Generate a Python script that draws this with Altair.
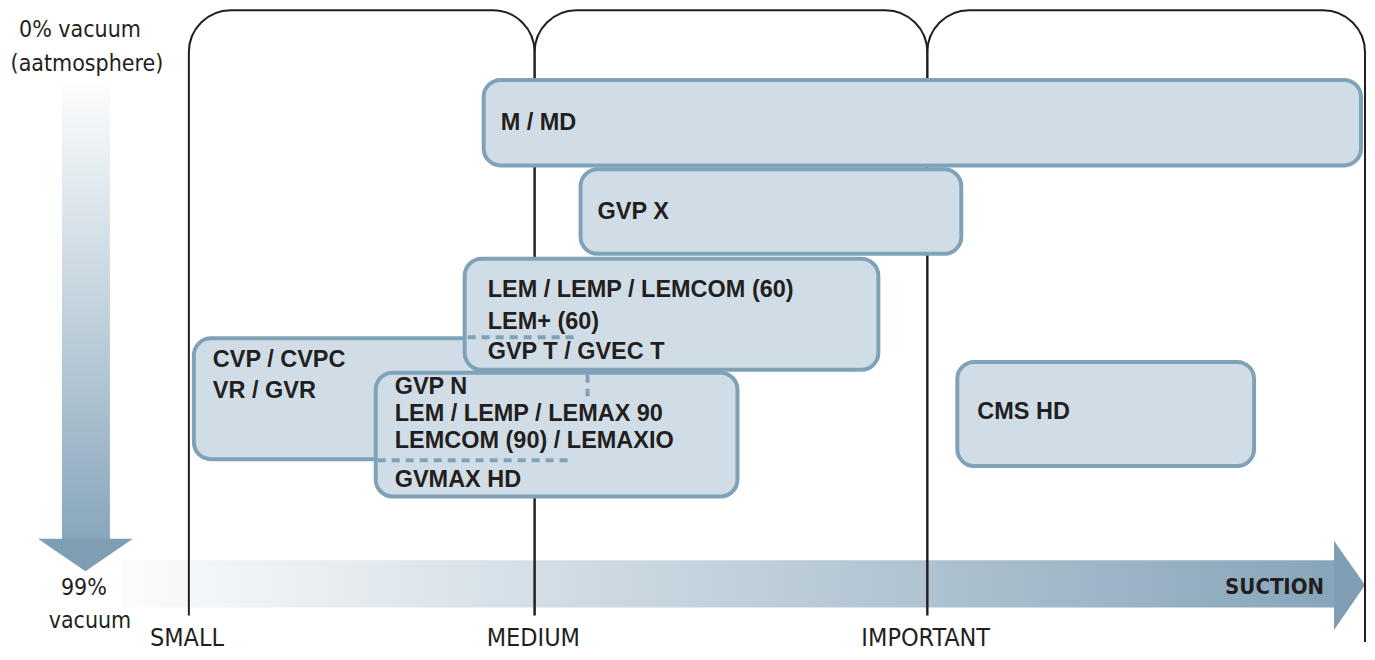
import altair as alt
import pandas as pd

# ---------------- data ----------------
# product boxes (diagram coordinates, reference pixels)
box_names = ["M / MD", "GVP X", "CVP", "GVP N", "LEM", "CMS HD"]
box_x0 = [484, 581, 194, 376, 465, 958]
box_x1 = [1362, 962, 590, 738, 879, 1255]
box_y0 = [76, 167, 339, 374, 258, 363]
box_y1 = [163, 253, 462, 500, 371, 469]

# labels inside boxes
lab_text = ["M / MD", "GVP X",
            "LEM / LEMP / LEMCOM (60)", "LEM+ (60)", "GVP T / GVEC T",
            "CVP / CVPC", "VR / GVR",
            "GVP N", "LEM / LEMP / LEMAX 90", "LEMCOM (90) / LEMAXIO", "GVMAX HD",
            "CMS HD"]
lab_x = [501, 598, 488, 488, 488, 213, 213, 395, 395, 395, 395, 978]
lab_y = [120, 210, 290, 322, 353, 361, 393, 389, 416, 443, 483, 414]

# size columns (frames)
col_names = ["SMALL", "MEDIUM", "IMPORTANT"]
col_x0 = [189, 535, 928]
col_x1 = [535, 928, 1366]
col_label_x = [150, 487, 862]
col_label_y = [644, 644, 644]

# hidden edges of the CVP box (dashed)
dash_x0 = [468, 588, 378]
dash_x1 = [580, 588, 574]
dash_y0 = [338, 376, 463]
dash_y1 = [338, 398, 463]

# vacuum axis labels
vac_text = ["0% vacuum", "(aatmosphere)", "99%", "vacuum"]
vac_x = [80, 87, 84, 90]
vac_y = [25, 60, 593, 627]

# arrows
vshaft_x = [62, 110]; vshaft_y = [70, 545]
vhead_x = [38, 85.5, 133]; vhead_y = [543, 543, 543]; vhead_y2 = [543, 576, 543]
hshaft_x = [122, 1336]; hshaft_y = [565, 613]
hhead_y = [545, 590, 636]; hhead_x = [1335, 1335, 1335]; hhead_x2 = [1335, 1366, 1335]

# ---------------- styles ----------------
BOX_FILL = "#d1dde6"
BOX_STROKE = "#80a2b9"
INK = "#231f20"
NARROW = "DejaVu Sans Condensed, Liberation Sans Narrow, Arial Narrow, sans-serif"

XS = alt.Scale(domain=[8, 1368], nice=False, zero=False)
YS = alt.Scale(domain=[4, 656], nice=False, zero=False, reverse=True)

def X(f="x"):
    return alt.X(f"{f}:Q", scale=XS, axis=None)

def Y(f="y"):
    return alt.Y(f"{f}:Q", scale=YS, axis=None)

# arrows
vgrad = alt.LinearGradient(gradient="linear",
                           stops=[alt.GradientStop(color="#ffffff", offset=0),
                                  alt.GradientStop(color="#e6edf1", offset=0.2),
                                  alt.GradientStop(color="#88a6bb", offset=1)],
                           x1=0, x2=0, y1=0, y2=1)
hgrad = alt.LinearGradient(gradient="linear",
                           stops=[alt.GradientStop(color="#fbfcfd", offset=0),
                                  alt.GradientStop(color="#87a5ba", offset=1)],
                           x1=0, x2=1, y1=0, y2=0)

vshaft = alt.Chart(pd.DataFrame({"x": [vshaft_x[0]], "x2": [vshaft_x[1]],
                                 "y": [vshaft_y[0]], "y2": [vshaft_y[1]]})).mark_rect(
    fill=vgrad, strokeWidth=0).encode(x=X(), x2="x2:Q", y=Y(), y2="y2:Q")
vhead = alt.Chart(pd.DataFrame({"x": vhead_x, "y": vhead_y, "y2": vhead_y2})).mark_area(
    color="#7f9eb4", interpolate="linear").encode(x=X(), y=Y(), y2="y2:Q")
hshaft = alt.Chart(pd.DataFrame({"x": [hshaft_x[0]], "x2": [hshaft_x[1]],
                                 "y": [hshaft_y[0]], "y2": [hshaft_y[1]]})).mark_rect(
    fill=hgrad, strokeWidth=0).encode(x=X(), x2="x2:Q", y=Y(), y2="y2:Q")
hhead = alt.Chart(pd.DataFrame({"y": hhead_y, "x": hhead_x, "x2": hhead_x2})).mark_area(
    color="#7f9eb4", orient="horizontal", interpolate="linear").encode(
    y=Y(), x=X(), x2="x2:Q")

# column frames (bottom edge hidden by the white cover)
frames_df = pd.DataFrame({"name": col_names, "x": col_x0, "x2": col_x1,
                          "y": [5, 5, 5], "y2": [653, 653, 653]})
frames = alt.Chart(frames_df).mark_rect(
    fillOpacity=0, stroke=INK, strokeWidth=2,
    cornerRadiusTopLeft=42, cornerRadiusTopRight=42,
    cornerRadiusBottomLeft=0, cornerRadiusBottomRight=0).encode(
    x=X(), x2="x2:Q", y=Y(), y2="y2:Q")

cover_df = pd.DataFrame({"x": [115, 1331], "x2": [1331, 1368],
                         "y": [621, 648], "y2": [656, 656]})
cover = alt.Chart(cover_df).mark_rect(fill="white", strokeWidth=0).encode(
    x=X(), x2="x2:Q", y=Y(), y2="y2:Q")

# product boxes
boxes_df = pd.DataFrame({"name": box_names, "x": box_x0, "x2": box_x1,
                         "y": box_y0, "y2": box_y1, "order": range(len(box_names))})
boxes = alt.Chart(boxes_df).mark_rect(
    fill=BOX_FILL, stroke=BOX_STROKE, strokeWidth=4, cornerRadius=17).encode(
    x=X(), x2="x2:Q", y=Y(), y2="y2:Q", order="order:O")

dashes_df = pd.DataFrame({"x": dash_x0, "x2": dash_x1, "y": dash_y0, "y2": dash_y1})
dashes = alt.Chart(dashes_df).mark_rule(
    color=BOX_STROKE, strokeWidth=4, strokeDash=[8, 6]).encode(
    x=X(), x2="x2:Q", y=Y(), y2="y2:Q")

labels = alt.Chart(pd.DataFrame({"t": lab_text, "x": lab_x, "y": lab_y})).mark_text(
    align="left", baseline="middle", font="Liberation Sans", fontWeight="bold",
    fontSize=23.5, color=INK).encode(x=X(), y=Y(), text="t:N")

col_labels = alt.Chart(pd.DataFrame({"t": col_names, "x": col_label_x, "y": col_label_y})).mark_text(
    align="left", baseline="middle", font=NARROW, fontSize=25,
    color=INK).encode(x=X(), y=Y(), text="t:N")

vac_labels = alt.Chart(pd.DataFrame({"t": vac_text, "x": vac_x, "y": vac_y})).mark_text(
    align="center", baseline="middle", font=NARROW, fontSize=23,
    color=INK).encode(x=X(), y=Y(), text="t:N")

suction = alt.Chart(pd.DataFrame({"t": ["SUCTION"], "x": [1226], "y": [592]})).mark_text(
    align="left", baseline="middle", font=NARROW, fontWeight="bold",
    fontSize=22, color=INK).encode(x=X(), y=Y(), text="t:N")

chart = alt.layer(
    vshaft, vhead, hshaft, hhead, frames, cover, boxes, dashes,
    labels, col_labels, vac_labels, suction
).properties(
    width=1360, height=644,
    autosize=alt.AutoSizeParams(type="fit", contains="padding"),
    padding=0, background="white"
).configure_view(stroke=None)

chart.save("out.html", embed_options={"renderer": "svg", "actions": False})
